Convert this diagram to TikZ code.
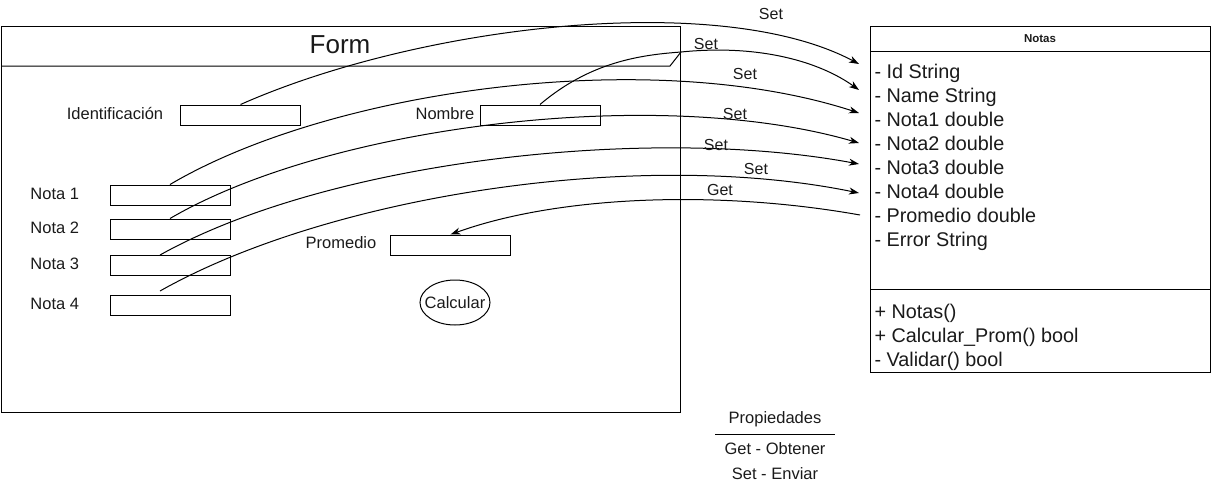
\documentclass[tikz,border=0pt]{standalone}
\usepackage{fontspec}
\setmainfont{Liberation Sans}
\usetikzlibrary{arrows.meta,shapes.geometric}
\definecolor{txt}{HTML}{1A1A1A}
\begin{document}
\begin{tikzpicture}[x=1pt,y=-1pt,line width=1pt,
  lbl/.style={font=\fontsize{16.5}{19}\selectfont,text=txt,inner sep=0pt},
  attr/.style={font=\fontsize{19.8}{23}\selectfont,text=txt,inner sep=0pt,anchor=base west},
  edgelbl/.style={font=\fontsize{16}{19}\selectfont,text=txt,inner sep=0pt},
  field/.style={draw,minimum width=120pt,minimum height=20pt,inner sep=0pt},
  conn/.style={-{Stealth[length=10pt,width=7pt,inset=3pt]}}]
\useasboundingbox (0,0) rectangle (1211,491);

% Form frame
\node[draw,minimum width=679pt,minimum height=386pt,anchor=north west,inner sep=0pt] (form) at (1,26) {};
\draw (form.west |- 0,66) -- (670,66) -- (681,52);
\node[font=\fontsize{26}{30}\selectfont,text=txt,inner sep=0pt] (formtitle) at (340,45) {Form};

% fields
\node[lbl] (lid) at (115,114) {Identificación};
\node[field] (idbox) at (240.5,115) {};
\node[lbl] (lnom) at (445,114) {Nombre};
\node[field] (nombox) at (540,115) {};
\node[lbl,anchor=west] (ln1) at (30,194) {Nota 1};
\node[field] (n1box) at (170,195) {};
\node[lbl,anchor=west] (ln2) at (30,228) {Nota 2};
\node[field] (n2box) at (170,229) {};
\node[lbl,anchor=west] (ln3) at (30,264) {Nota 3};
\node[field] (n3box) at (170,265) {};
\node[lbl,anchor=west] (ln4) at (30,304) {Nota 4};
\node[field] (n4box) at (170,305) {};
\node[lbl] (lprom) at (341,243) {Promedio};
\node[field] (prombox) at (450.5,245) {};
\node[draw,ellipse,minimum width=70pt,minimum height=45pt,inner sep=0pt] (calc) at (455,302.5) {};
\node[lbl] (calctext) at (calc.center) {Calcular};

% class Notas
\node[draw,minimum width=340pt,minimum height=346pt,anchor=north west,inner sep=0pt] (notas) at (870,26) {};
\draw (notas.west |- 0,51) -- (notas.east |- 0,51);
\draw (notas.west |- 0,289) -- (notas.east |- 0,289);
\node[font=\bfseries\fontsize{11.5}{14}\selectfont,text=txt,inner sep=0pt] (ntitle) at (1040,38.5) {Notas};
\node[attr] (a1) at (874,78) {- Id String};
\node[attr] (a2) at (874,102) {- Name String};
\node[attr] (a3) at (874,126) {- Nota1 double};
\node[attr] (a4) at (874,150) {- Nota2 double};
\node[attr] (a5) at (874,174) {- Nota3 double};
\node[attr] (a6) at (874,198) {- Nota4 double};
\node[attr] (a7) at (874,222) {- Promedio double};
\node[attr] (a8) at (874,246) {- Error String};
\node[attr] (m1) at (874,318) {+ Notas()};
\node[attr] (m2) at (874,342) {+ Calcular\_Prom() bool};
\node[attr] (m3) at (874,366) {- Validar() bool};

% connector end points
\coordinate (t1) at (859,64);
\coordinate (t2) at (859,90);
\coordinate (t3) at (859,113);
\coordinate (t4) at (859,143);
\coordinate (t5) at (859,164);
\coordinate (t6) at (859,193);
\coordinate (g0) at (860,215);
\coordinate (s3) at (160,255);
\coordinate (s4) at (160,291);
\coordinate (w2) at (681,52);

% connectors
\draw[conn] (idbox.north) .. controls (420,25) and (720,-10) .. (t1);
\draw[conn] (nombox.north) .. controls (590,62) and (640,55) .. (w2) .. controls (760,44) and (820,62) .. (t2);
\draw[conn] (n1box.north) .. controls (330,90) and (650,45) .. (t3);
\draw[conn] (n2box.north) .. controls (330,125) and (660,85) .. (t4);
\draw[conn] (s3) .. controls (330,160) and (650,125) .. (t5);
\draw[conn] (s4) .. controls (330,195) and (640,148) .. (t6);
\draw[conn] (g0) .. controls (720,190) and (560,195) .. (prombox.north);

% connector labels
\node[edgelbl] (e1) at (771,14) {Set};
\node[edgelbl] (e2) at (706,44) {Set};
\node[edgelbl] (e3) at (745,74) {Set};
\node[edgelbl] (e4) at (735,114) {Set};
\node[edgelbl] (e5) at (716,145) {Set};
\node[edgelbl] (e6) at (756,169) {Set};
\node[edgelbl] (e7) at (720,190) {Get};

% legend
\node[lbl] (lg1) at (775,419) {Propiedades};
\draw (715,434) -- (835,434);
\node[lbl] (lg2) at (775,449) {Get - Obtener};
\node[lbl] (lg3) at (775,474) {Set - Enviar};
\end{tikzpicture}
\end{document}
